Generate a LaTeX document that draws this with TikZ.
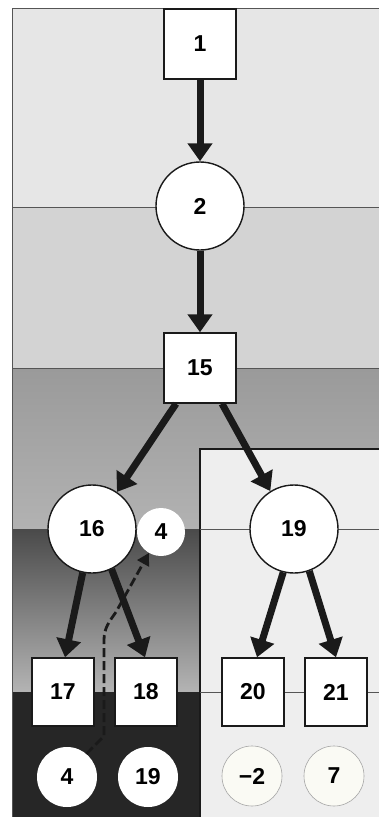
\documentclass[tikz,border=0pt]{standalone}
\usepackage{fontspec}
\setmainfont{Liberation Sans}
\usetikzlibrary{arrows.meta,calc}

\definecolor{bandA}{HTML}{E6E6E6}
\definecolor{bandB}{HTML}{D3D3D3}
\definecolor{bandCtop}{HTML}{9A9A9A}
\definecolor{bandCbot}{HTML}{B2B2B2}
\definecolor{colTop}{HTML}{4A4A4A}
\definecolor{colBot}{HTML}{B4B4B4}
\definecolor{colDark}{HTML}{262626}
\definecolor{panel}{HTML}{EEEEEE}
\definecolor{rule}{HTML}{555555}
\definecolor{ink}{HTML}{1A1A1A}
\definecolor{paleDot}{HTML}{FAFAF4}

\tikzset{
  numfont/.style={font=\fontsize{23}{25}\selectfont\bfseries},
  bigbox/.style={draw=ink, line width=1.4pt, fill=white, minimum width=72pt,
                 minimum height=70pt, inner sep=0pt, numfont},
  leafbox/.style={draw=ink, line width=1.4pt, fill=white, minimum width=62pt,
                  minimum height=68pt, inner sep=0pt, numfont},
  bigdisc/.style={circle, draw=ink, line width=1.4pt, fill=white,
                  minimum size=88pt, inner sep=0pt, numfont},
  tag/.style={circle, fill=white, minimum size=48pt, inner sep=0pt, numfont},
  value/.style={circle, fill=white, minimum size=60pt, inner sep=0pt, numfont},
  palevalue/.style={circle, draw=gray!70, line width=0.6pt, fill=paleDot,
                    minimum size=60pt, inner sep=0pt, numfont},
  flow/.style={draw=ink, line width=7pt,
               -{Triangle[width=24pt,length=18pt]}},
  backflow/.style={draw=ink, line width=2.8pt, dash pattern=on 9pt off 4pt,
                   -{Triangle[width=13pt,length=12pt]}},
  thinrule/.style={draw=rule, line width=0.6pt},
  frame/.style={draw=ink, line width=1.4pt},
}

\begin{document}
\begin{tikzpicture}[x=1pt,y=-1pt]
  \useasboundingbox (0,0) rectangle (379,817);
  \fill[white] (0,0) rectangle (379,817);

  % horizontal bands of the backdrop
  \fill[bandA] (12,8) rectangle (379,207);
  \fill[bandB] (12,207) rectangle (379,368);
  \shade[top color=bandCtop, bottom color=bandCbot] (12,368) rectangle (379,529);

  % left column below the third band
  \shade[top color=colTop, bottom color=colBot] (12,529) rectangle (200,692);
  \fill[colDark] (12,692) rectangle (200,817);

  % light panel on the right
  \fill[panel] (200,449) rectangle (379,817);
  \draw[frame] (200,817) -- (200,449) -- (379,449);

  % thin rules
  \draw[thinrule] (12,8) -- (379,8);
  \draw[thinrule] (12,8) -- (12,817);
  \draw[thinrule] (12,207) -- (379,207);
  \draw[thinrule] (12,368) -- (379,368);
  \draw[thinrule] (200,529) -- (379,529);
  \draw[thinrule] (200,692) -- (379,692);

  % nodes
  \node[bigbox]  (b1)  at (200,44)  {1};
  \node[bigdisc] (c2)  at (200,206) {2};
  \node[bigbox]  (b15) at (200,368) {15};
  \node[bigdisc] (c16) at (92,529)  {16};
  \node[tag]     (s4)  at (161,532) {4};
  \node[bigdisc] (c19) at (294,529) {19};

  \node[leafbox] (b17) at (63,692)  {17};
  \node[leafbox] (b18) at (146,692) {18};
  \node[leafbox] (b20) at (253,692) {20};
  \node[leafbox] (b21) at (336,692) {21};

  \node[value]     (v4)  at (67,777)  {4};
  \node[value]     (v19) at (148,777) {19};
  \node[palevalue] (vm2) at (252,776) {−2};
  \node[palevalue] (v7)  at (334,776) {7};

  % tree edges
  \draw[flow] (b1) -- (c2);
  \draw[flow] (c2) -- (b15);
  \draw[flow] ([xshift=-24pt]b15.south) -- (c16.56);
  \draw[flow] ([xshift=22pt]b15.south) -- (c19.122);
  \draw[flow] (c16.258) -- ([xshift=2pt]b17.north);
  \draw[flow] (c16.296) -- ([xshift=-1pt]b18.north);
  \draw[flow] (c19.256) -- ([xshift=4pt]b20.north);
  \draw[flow] (c19.290) -- (b21.north);

  % dashed return path
  \coordinate (r1) at (104,736);
  \coordinate (r2) at (104,640);
  \coordinate (r3) at (116,612);
  \draw[backflow] (v4.50) -- (r1) -- (r2) to[out=90,in=235] (r3) -- (s4.240);
\end{tikzpicture}
\end{document}
